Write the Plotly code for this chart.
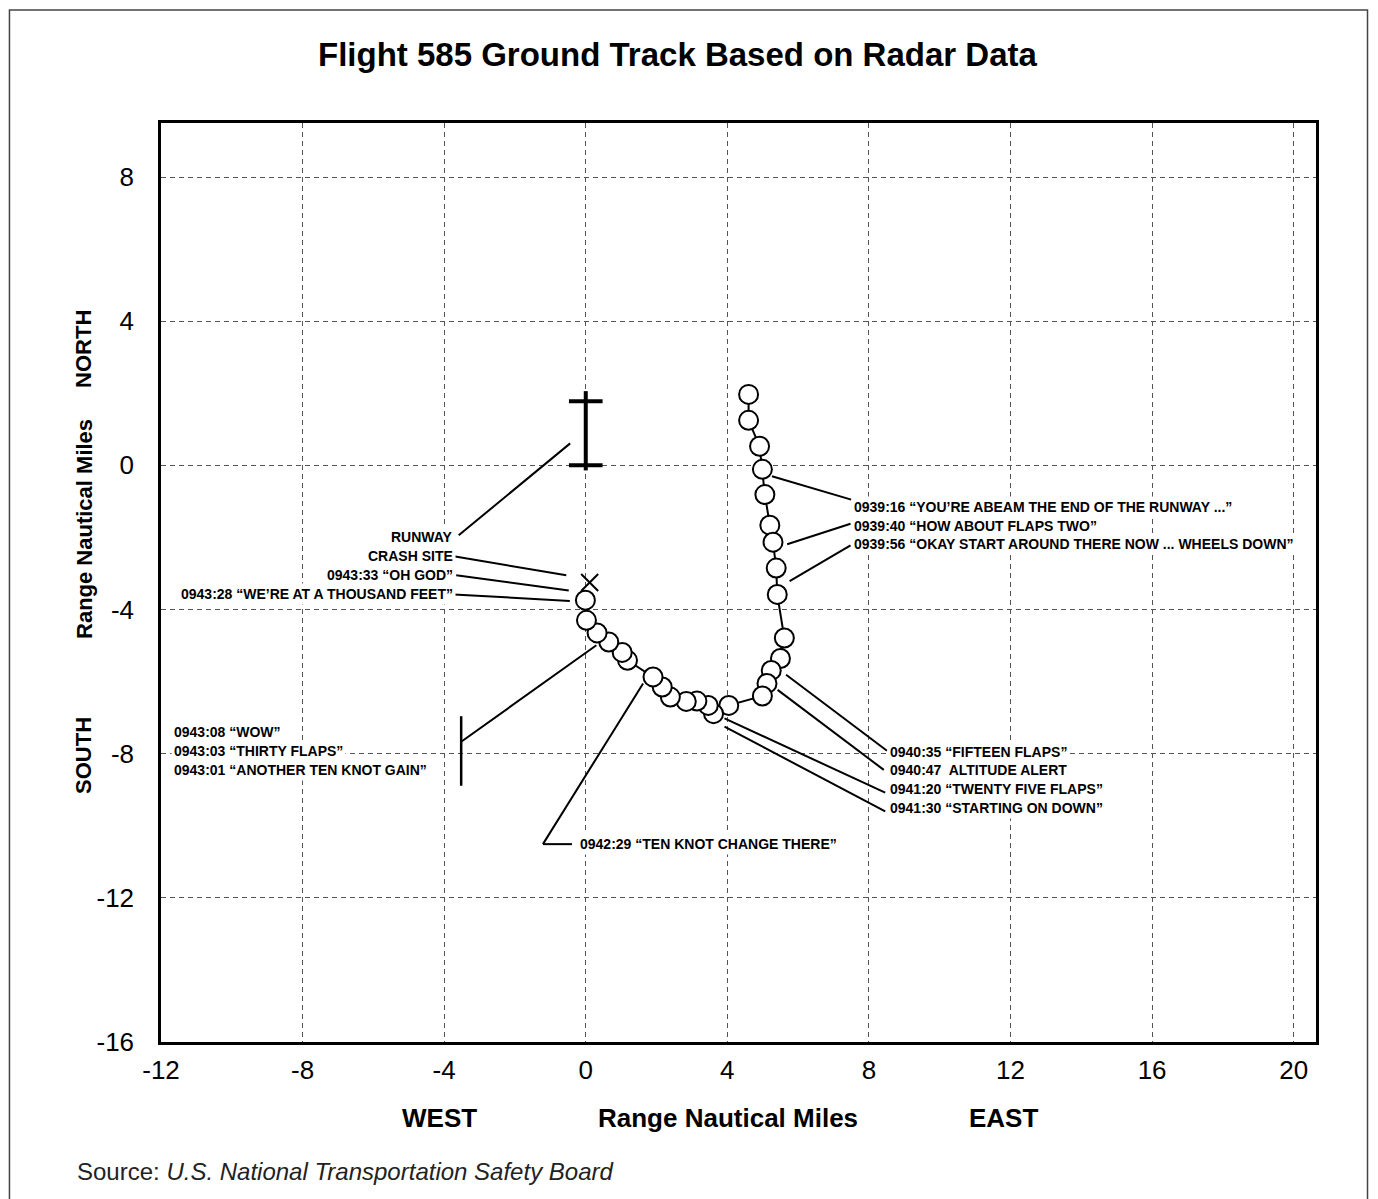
import plotly.graph_objects as go

# ---------------- data ----------------
track_x = [4.60, 4.60, 4.91, 4.99, 5.06, 5.20, 5.29, 5.38, 5.41, 5.61, 5.50, 5.24, 5.12, 4.99,
           4.04, 3.61, 3.46, 3.14, 2.84, 2.39, 2.16, 1.90, 1.18, 1.03, 0.65, 0.32, 0.02, -0.01]
track_y = [1.97, 1.25, 0.53, -0.11, -0.81, -1.66, -2.13, -2.85, -3.58, -4.79, -5.36, -5.69, -6.05, -6.40,
           -6.66, -6.89, -6.66, -6.54, -6.55, -6.43, -6.15, -5.87, -5.41, -5.19, -4.90, -4.65, -4.30, -3.74]
crash_x = [0.11]
crash_y = [-3.25]
runway_x = [0.0, 0.0]
runway_y = [0.0, 1.78]

x_ticks = [-12, -8, -4, 0, 4, 8, 12, 16, 20]
x_tick_labels = ["-12", "-8", "-4", "0", "4", "8", "12", "16", "20"]
y_ticks = [8, 4, 0, -4, -8, -12, -16]
y_tick_labels = ["8", "4", "0", "-4", "-8", "-12", "-16"]

left_labels = ["RUNWAY", "CRASH SITE", "0943:33 \u201cOH GOD\u201d", "0943:28 \u201cWE\u2019RE AT A THOUSAND FEET\u201d"]
bracket_labels = ["0943:08 \u201cWOW\u201d", "0943:03 \u201cTHIRTY FLAPS\u201d", "0943:01 \u201cANOTHER TEN KNOT GAIN\u201d"]
top_right_labels = ["0939:16 \u201cYOU\u2019RE ABEAM THE END OF THE RUNWAY ...\u201d",
                    "0939:40 \u201cHOW ABOUT FLAPS TWO\u201d",
                    "0939:56 \u201cOKAY START AROUND THERE NOW ... WHEELS DOWN\u201d"]
bottom_right_labels = ["0940:35 \u201cFIFTEEN FLAPS\u201d", "0940:47  ALTITUDE ALERT",
                       "0941:20 \u201cTWENTY FIVE FLAPS\u201d", "0941:30 \u201cSTARTING ON DOWN\u201d"]
ten_knot_label = "0942:29 \u201cTEN KNOT CHANGE THERE\u201d"

# ---------------- layout constants ----------------
X_RANGE = [-12, 20.63]
Y_RANGE = [-16, 9.5]
NARROW = "Liberation Sans Narrow, Arial Narrow, Liberation Sans, Arial, sans-serif"
SANS = "Liberation Sans, Arial, Helvetica, sans-serif"
LBL_SIZE = 14

fig = go.Figure()

# runway
fig.add_trace(go.Scatter(x=runway_x, y=[runway_y[0] - 0.14, runway_y[1] + 0.28], mode="lines",
                         line=dict(color="black", width=4), hoverinfo="skip", showlegend=False))
fig.add_trace(go.Scatter(x=runway_x, y=runway_y, mode="markers",
                         marker=dict(symbol="line-ew", size=24, line=dict(color="black", width=4)),
                         hoverinfo="skip", showlegend=False))
# ground track
fig.add_trace(go.Scatter(x=track_x, y=track_y, mode="lines+markers",
                         line=dict(color="black", width=2),
                         marker=dict(symbol="circle", size=19, color="white",
                                     line=dict(color="black", width=2)),
                         showlegend=False))
# crash site
fig.add_trace(go.Scatter(x=crash_x, y=crash_y, mode="markers",
                         marker=dict(symbol="x-thin", size=17, line=dict(color="black", width=2)),
                         showlegend=False))

# leader lines (data coordinates)
leaders = [
    [(-3.59, -1.94), (-0.44, 0.61)],
    [(-3.73, -2.52), (-0.55, -3.05)],
    [(-3.66, -3.05), (-0.48, -3.47)],
    [(-3.73, -3.58), (-0.45, -3.76)],
    [(-3.52, -7.67), (0.30, -4.99)],
    [(-0.39, -10.51), (-1.21, -10.51)],
    [(-1.21, -10.51), (1.62, -6.05)],
    [(5.66, -5.81), (8.51, -7.92)],
    [(5.42, -6.23), (8.42, -8.45)],
    [(3.92, -7.02), (8.46, -9.08)],
    [(3.92, -7.25), (8.46, -9.60)],
    [(5.26, -0.30), (7.50, -0.95)],
    [(5.69, -2.19), (7.48, -1.62)],
    [(5.76, -3.21), (7.48, -2.22)],
]
shapes = []
for (x0, y0), (x1, y1) in leaders:
    shapes.append(dict(type="line", xref="x", yref="y", x0=x0, y0=y0, x1=x1, y1=y1,
                       line=dict(color="black", width=2)))
# bracket at 0943:0x labels
shapes.append(dict(type="line", xref="x", yref="y", x0=-3.52, y0=-6.96, x1=-3.52, y1=-8.89,
                   line=dict(color="black", width=2.5)))
# outer frame
shapes.append(dict(type="rect", xref="paper", yref="paper", x0=-0.1312, x1=1.0446, y0=-0.18, y1=1.123,
                   line=dict(color="#444444", width=1.5), layer="below"))

bg_ann = []
fg_ann = []


def label(x, y, text, xanchor):
    common = dict(x=x, y=y, xref="x", yref="y", text=text, showarrow=False,
                  xanchor=xanchor, yanchor="middle", borderpad=2)
    bg_ann.append(dict(common, bgcolor="white",
                       font=dict(family=NARROW, size=LBL_SIZE, color="rgba(0,0,0,0)")))
    fg_ann.append(dict(common, font=dict(family=NARROW, size=LBL_SIZE, color="black")))


for t, yy in zip(left_labels, [-1.98, -2.52, -3.05, -3.58]):
    label(-3.66, yy, "<b>%s</b>" % t, "right")
for t, yy in zip(bracket_labels, [-7.39, -7.93, -8.45]):
    label(-11.71, yy, "<b>%s</b>" % t, "left")
for t, yy in zip(top_right_labels, [-1.16, -1.67, -2.18]):
    label(7.48, yy, "<b>%s</b>" % t, "left")
for t, yy in zip(bottom_right_labels, [-7.95, -8.46, -8.99, -9.50]):
    label(8.50, yy, "<b>%s</b>" % t, "left")
label(-0.24, -10.51, "<b>%s</b>" % ten_knot_label, "left")

paper_ann = [
    dict(x=0.4476, y=1.0740, text="<b>Flight 585 Ground Track Based on Radar Data</b>",
         font=dict(family=SANS, size=33, color="black")),
    dict(x=0.2407, y=-0.0827, text="<b>WEST</b>", font=dict(family=SANS, size=26, color="black")),
    dict(x=0.4913, y=-0.0827, text="<b>Range Nautical Miles</b>", font=dict(family=SANS, size=26, color="black")),
    dict(x=0.7294, y=-0.0827, text="<b>EAST</b>", font=dict(family=SANS, size=26, color="black")),
    dict(x=-0.0667, y=0.7541, text="<b>NORTH</b>", textangle=-90, font=dict(family=SANS, size=22, color="black")),
    dict(x=-0.0667, y=0.5582, text="<b>Range Nautical Miles</b>", textangle=-90,
         font=dict(family=SANS, size=22, color="black")),
    dict(x=-0.0667, y=0.3123, text="<b>SOUTH</b>", textangle=-90, font=dict(family=SANS, size=22, color="black")),
]
for a in paper_ann:
    a.update(xref="paper", yref="paper", showarrow=False, xanchor="center", yanchor="middle")
paper_ann.append(dict(x=-0.0745, y=-0.1404, xref="paper", yref="paper", showarrow=False,
                      xanchor="left", yanchor="middle",
                      text="Source: <i>U.S. National Transportation Safety Board</i>",
                      font=dict(family=SANS, size=24, color="#222222")))

fig.update_layout(
    width=1370, height=1191,
    margin=dict(l=153, r=62, t=115, b=157),
    paper_bgcolor="white", plot_bgcolor="white",
    shapes=shapes,
    annotations=bg_ann + fg_ann + paper_ann,
    showlegend=False,
)
fig.update_xaxes(range=X_RANGE, tickvals=x_ticks, ticktext=x_tick_labels, ticks="",
                 showgrid=True, gridcolor="#555555", gridwidth=1, griddash="5px,4px",
                 zeroline=False, showline=True, linecolor="black", linewidth=2.5, mirror=True,
                 tickfont=dict(family=SANS, size=26, color="black"), ticklabelstandoff=3)
fig.update_yaxes(range=Y_RANGE, tickvals=y_ticks, ticktext=y_tick_labels, ticks="",
                 showgrid=True, gridcolor="#555555", gridwidth=1, griddash="5px,4px",
                 zeroline=False, showline=True, linecolor="black", linewidth=2.5, mirror=True,
                 tickfont=dict(family=SANS, size=26, color="black"), ticklabelstandoff=19)

fig.write_html("out.html")
